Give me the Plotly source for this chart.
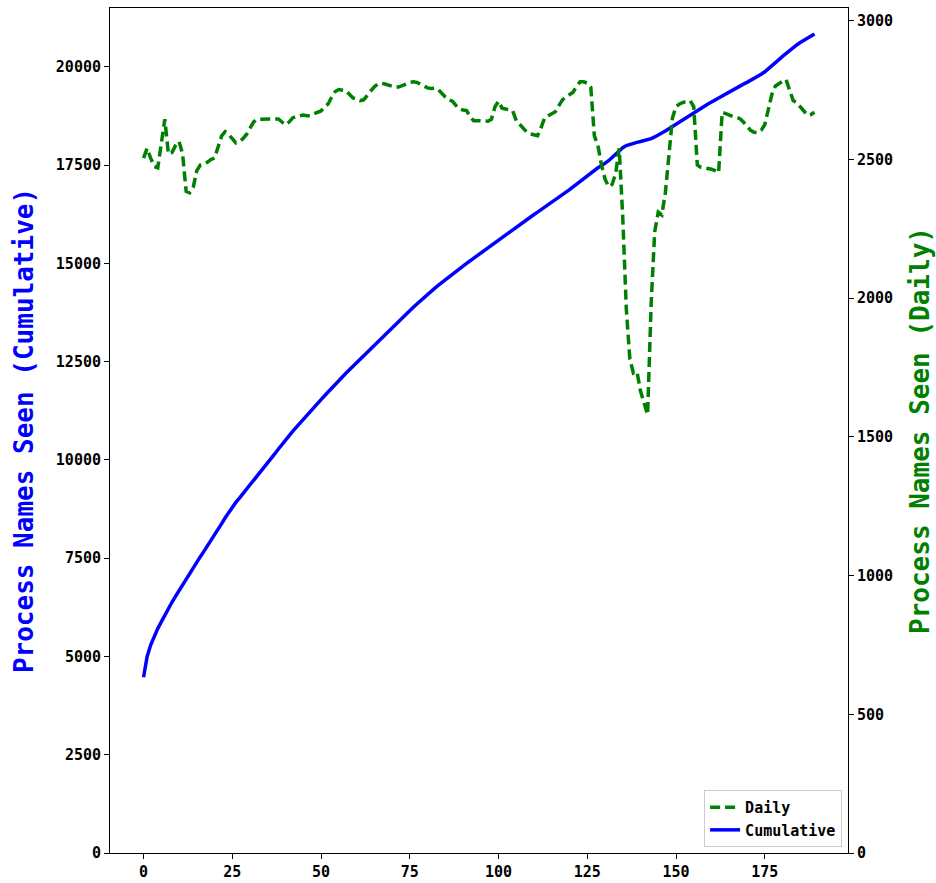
import plotly.graph_objects as go

# Day index
days = list(range(190))

# Distinct process names seen per day
daily = [
    2505, 2540, 2505, 2475, 2470, 2560, 2645, 2520, 2525, 2550,
    2565, 2520, 2385, 2380, 2400, 2460, 2480, 2485, 2490, 2500,
    2505, 2545, 2585, 2600, 2590, 2575, 2560, 2565, 2575, 2590,
    2615, 2635, 2645, 2645, 2648, 2648, 2645, 2645, 2646, 2635,
    2625, 2635, 2650, 2655, 2658, 2660, 2658, 2658, 2665, 2670,
    2675, 2690, 2700, 2725, 2745, 2752, 2750, 2748, 2735, 2722,
    2718, 2712, 2715, 2730, 2745, 2762, 2772, 2775, 2772, 2768,
    2762, 2760, 2762, 2766, 2772, 2778, 2780, 2778, 2772, 2765,
    2758, 2756, 2757, 2752, 2738, 2725, 2715, 2710, 2695, 2682,
    2678, 2676, 2655, 2640, 2640, 2640, 2640, 2638, 2645, 2690,
    2710, 2685, 2682, 2680, 2675, 2640, 2625, 2610, 2598, 2592,
    2588, 2586, 2615, 2650, 2658, 2665, 2672, 2694, 2715, 2725,
    2735, 2742, 2765, 2780, 2780, 2775, 2760, 2585, 2550, 2480,
    2430, 2402, 2410, 2450, 2540, 2290, 1960, 1780, 1730, 1735,
    1665, 1620, 1580, 1980, 2240, 2310, 2300, 2380, 2530, 2650,
    2690, 2700, 2706, 2708, 2712, 2690, 2480, 2472, 2470, 2468,
    2465, 2460, 2452, 2670, 2664, 2660, 2655, 2652, 2647, 2635,
    2618, 2605, 2598, 2597, 2605, 2625, 2680, 2735, 2765, 2775,
    2782, 2788, 2745, 2712, 2705, 2690, 2675, 2660, 2662, 2670,
]

# Cumulative count of distinct process names
cumulative = [
    4470, 4995, 5290, 5530, 5710, 5880, 6060, 6230, 6380, 6530,
    6680, 6820, 6965, 7110, 7255, 7400, 7540, 7675, 7810, 7945,
    8080, 8230, 8380, 8530, 8670, 8800, 8920, 9030, 9140, 9250,
    9360, 9470, 9580, 9690, 9800, 9920, 10040, 10160, 10280, 10400,
    10510, 10620, 10725, 10830, 10935, 11035, 11135, 11235, 11335, 11435,
    11535, 11635, 11735, 11830, 11925, 12020, 12115, 12205, 12295, 12385,
    12475, 12565, 12655, 12745, 12835, 12925, 13015, 13105, 13195, 13285,
    13375, 13460, 13545, 13630, 13715, 13800, 13885, 13970, 14055, 14130,
    14210, 14290, 14365, 14440, 14515, 14588, 14660, 14730, 14800, 14868,
    14935, 15002, 15068, 15134, 15200, 15268, 15336, 15404, 15472, 15540,
    15608, 15676, 15743, 15808, 15872, 15935, 15998, 16060, 16122, 16184,
    16246, 16307, 16368, 16430, 16492, 16554, 16616, 16680, 16745, 16812,
    16880, 16950, 17022, 17095, 17170, 17245, 17318, 17380, 17435, 17485,
    17545, 17615, 17695, 17780, 17865, 17945, 18000, 18035, 18060, 18082,
    18102, 18122, 18145, 18178, 18220, 18265, 18315, 18370, 18427, 18485,
    18545, 18605, 18667, 18730, 18793, 18853, 18908, 18960, 19010, 19060,
    19110, 19162, 19215, 19268, 19322, 19375, 19425, 19472, 19518, 19563,
    19608, 19655, 19705, 19758, 19815, 19878, 19950, 20028, 20108, 20188,
    20268, 20348, 20425, 20495, 20560, 20620, 20678, 20732, 20786, 20840,
]

x_ticks = [0, 25, 50, 75, 100, 125, 150, 175]
left_ticks = [0, 2500, 5000, 7500, 10000, 12500, 15000, 17500, 20000]
right_ticks = [0, 500, 1000, 1500, 2000, 2500, 3000]

MONO = "DejaVu Sans Mono"
tick_font = dict(family=MONO, size=15, color="black", weight="bold")

fig = go.Figure()

fig.add_trace(go.Scatter(
    x=days, y=cumulative, name="Cumulative", mode="lines",
    line=dict(color="#0000ff", width=3.5),
    yaxis="y",
))

fig.add_trace(go.Scatter(
    x=days, y=daily, name="Daily", mode="lines",
    line=dict(color="#008000", width=3.5, dash="10px,5px"),
    yaxis="y2",
))

axis_common = dict(
    showgrid=False, zeroline=False, automargin=False,
    showline=True, linecolor="black", linewidth=1,
    ticks="outside", ticklen=5, tickwidth=1, tickcolor="black",
    tickfont=tick_font,
)

fig.update_layout(
    width=936, height=883,
    margin=dict(l=110, r=88, t=8, b=30, pad=0),
    paper_bgcolor="white", plot_bgcolor="white",
    xaxis=dict(
        range=[-9.45, 198.45],
        tickmode="array", tickvals=x_ticks, ticktext=[str(v) for v in x_ticks],
        mirror=True, **axis_common,
    ),
    yaxis=dict(
        range=[0, 21500],
        tickmode="array", tickvals=left_ticks, ticktext=[str(v) for v in left_ticks],
        title=dict(text="Process Names Seen (Cumulative)",
                   font=dict(family=MONO, size=26, color="#0000ff", weight="bold"),
                   standoff=14),
        **axis_common,
    ),
    yaxis2=dict(
        range=[0, 3046],
        overlaying="y", side="right",
        tickmode="array", tickvals=right_ticks, ticktext=[str(v) for v in right_ticks],
        title=dict(text="Process Names Seen (Daily)",
                   font=dict(family=MONO, size=26, color="#008000", weight="bold"),
                   standoff=18),
        **axis_common,
    ),
    legend=dict(
        x=0.992, y=0.007, xanchor="right", yanchor="bottom",
        traceorder="reversed",
        bgcolor="white", bordercolor="#cccccc", borderwidth=1,
        font=dict(family=MONO, size=15, color="black", weight="bold"),
        itemwidth=30, tracegroupgap=0,
    ),
    showlegend=True,
)

fig.write_html("out.html")
